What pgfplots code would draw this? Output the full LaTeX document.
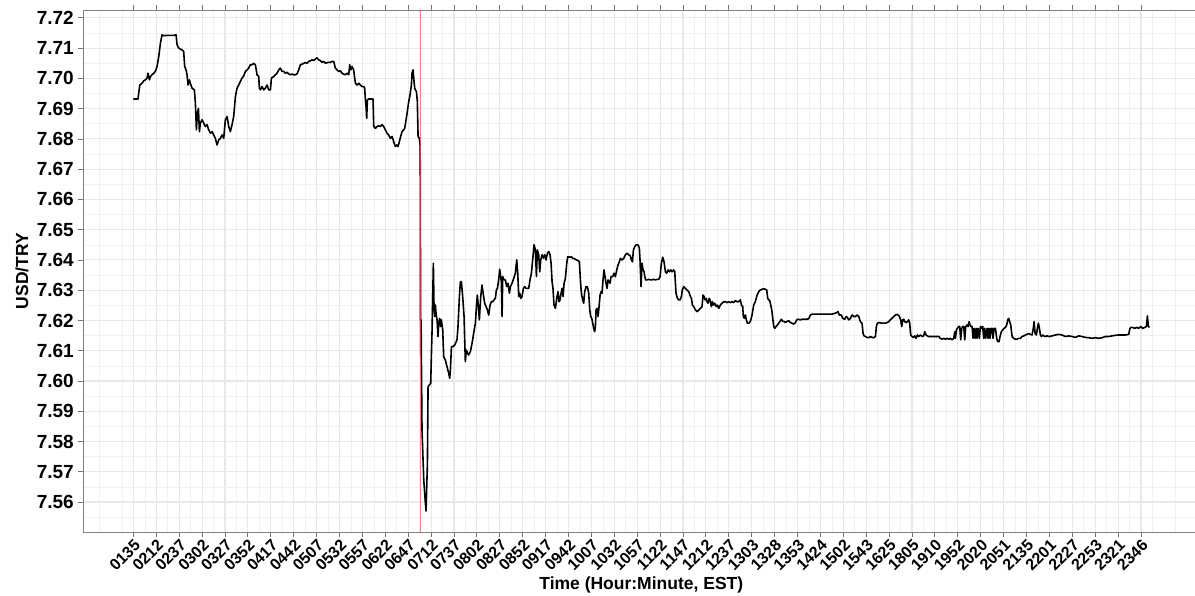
\documentclass[border=0pt]{standalone}
\usepackage{pgfplots}
\pgfplotsset{compat=1.18}
\usepackage{fontspec}
\setmainfont{Liberation Sans}
\begin{document}
\begin{tikzpicture}
\begin{axis}[
  at={(0,0)}, anchor=south west,
  scale only axis,
  width=1116.6pt, height=522pt,
  xmin=-55, xmax=1164,
  ymin=7.5501, ymax=7.7226,
  axis background/.style={fill=white},
  xtick={0,25,...,1100},
  xticklabels={0135,0212,0237,0302,0327,0352,0417,0442,0507,0532,0557,0622,0647,0712,0737,0802,0827,0852,0917,0942,1007,1032,1057,1122,1147,1212,1237,1303,1328,1353,1424,1502,1543,1625,1805,1910,1952,2020,2051,2135,2201,2227,2253,2321,2346},
  minor xtick={-37.5,-12.5,12.5,...,1162.5},
  ytick={7.56,7.57,7.58,7.59,7.60,7.61,7.62,7.63,7.64,7.65,7.66,7.67,7.68,7.69,7.70,7.71,7.72},
  yticklabels={7.56,7.57,7.58,7.59,7.60,7.61,7.62,7.63,7.64,7.65,7.66,7.67,7.68,7.69,7.70,7.71,7.72},
  minor ytick={7.555,7.565,7.575,7.585,7.595,7.605,7.615,7.625,7.635,7.645,7.655,7.665,7.675,7.685,7.695,7.705,7.715},
  grid=both,
  major grid style={line width=1.1pt, black!9},
  minor grid style={line width=0.55pt, black!6},
  minor tick length=0pt,
  tick align=outside,
  major tick length=5pt,
  tick style={black!55, line width=0.8pt},
  axis line style={black!50, line width=0.8pt},
  yticklabel style={font=\bfseries\fontsize{19}{20}\selectfont, black, anchor=east, inner sep=0pt, xshift=-4pt},
  xticklabel style={font=\bfseries\fontsize{16}{17}\selectfont, black, rotate=45, anchor=north east, inner sep=1pt},
  xlabel={Time (Hour:Minute, EST)},
  ylabel={USD/TRY},
  xlabel style={font=\bfseries\fontsize{17.5}{18}\selectfont, at={(axis description cs:0.5,0)}, anchor=center, yshift=-53pt},
  ylabel style={font=\bfseries\fontsize{17.5}{18}\selectfont, at={(axis description cs:0,0.5)}, anchor=center, yshift=61pt},
]
\addplot[black, line width=1.6pt, line join=round] table {
x y
0 7.6932
5 7.6932
7 7.6978
9.5 7.6984
11.3 7.6992
13.1 7.6995
14.9 7.7001
16.0 7.7017
17.5 7.6995
18.6 7.7006
20.4 7.7012
22.2 7.7017
24.0 7.7023
25.8 7.7039
27.7 7.7072
29.5 7.7116
31.3 7.7144
33.1 7.7141
36.8 7.7142
40.4 7.7142
44.0 7.7142
46.6 7.7144
47.7 7.7111
49.5 7.7100
53.1 7.7094
54.9 7.7089
56.0 7.7039
57.5 7.7028
58.6 7.7012
59.7 7.6978
61.1 7.6995
62.2 7.6984
64.0 7.6968
66.6 7.6962
67.7 7.6918
68.8 7.6830
69.9 7.6885
71.0 7.6901
72.1 7.6824
73.1 7.6852
75.0 7.6863
76.8 7.6852
78.6 7.6841
80.4 7.6847
82.2 7.6830
84.1 7.6819
85.9 7.6824
87.7 7.6813
89.5 7.6802
91.3 7.6780
93.2 7.6797
95.0 7.6802
96.8 7.6813
98.6 7.6802
100.4 7.6863
102.3 7.6874
104.1 7.6841
105.9 7.6824
107.7 7.6847
109.5 7.6874
111.4 7.6940
113.2 7.6968
115.0 7.6978
116.8 7.6990
118.6 7.7001
120.4 7.7008
122.3 7.7023
124.1 7.7028
125.9 7.7034
127.7 7.7045
129.5 7.7045
131.4 7.7050
133.2 7.7045
135.0 7.7012
136.8 7.7006
137.6 7.6968
138.6 7.6962
140.5 7.6973
142.3 7.6962
144.1 7.6968
145.9 7.6978
147.7 7.6962
149.6 7.6962
150.7 7.7001
153.2 7.7006
155.0 7.7012
156.8 7.7017
158.7 7.7028
160.5 7.7034
162.3 7.7023
164.1 7.7023
165.9 7.7017
167.8 7.7020
169.6 7.7015
171.4 7.7012
173.2 7.7014
175.0 7.7012
176.8 7.7012
178.7 7.7015
180.5 7.7028
182.3 7.7045
184.1 7.7047
185.9 7.7050
187.8 7.7052
189.6 7.7050
191.4 7.7056
193.2 7.7058
195.0 7.7061
196.9 7.7059
198.7 7.7064
200.5 7.7068
202.3 7.7061
204.1 7.7059
206.0 7.7053
207.8 7.7056
209.6 7.7050
211.4 7.7052
213.2 7.7053
215.1 7.7053
216.9 7.7056
218.7 7.7056
220.5 7.7034
222.3 7.7028
224.2 7.7023
226.0 7.7025
227.8 7.7017
229.6 7.7014
231.4 7.7012
233.3 7.7017
235.1 7.7012
236.2 7.7045
237.3 7.7028
238.7 7.7039
240.5 7.7028
241.6 7.7001
242.4 7.6984
244.2 7.6978
246.0 7.6984
247.8 7.6978
249.6 7.6973
251.5 7.6973
252.5 7.6968
253.3 7.6929
254.0 7.6907
254.7 7.6868
255.5 7.6929
256.9 7.6932
260.5 7.6932
261.6 7.6932
262.4 7.6841
264.2 7.6835
266.0 7.6841
267.8 7.6843
269.6 7.6841
271.5 7.6847
273.3 7.6841
275.1 7.6830
276.9 7.6819
278.7 7.6813
280.6 7.6802
282.4 7.6808
284.2 7.6791
286.0 7.6775
287.8 7.6780
288.9 7.6775
290.4 7.6791
291.8 7.6808
293.3 7.6824
295.1 7.6830
296.2 7.6835
297.7 7.6863
298.8 7.6885
300.6 7.6923
301.7 7.6940
302.8 7.6962
303.5 7.6978
304.2 7.7017
305.3 7.7028
306.4 7.6990
307.1 7.6968
307.8 7.6962
309.0 7.6957
310.0 7.6924
310.8 7.6808
312.2 7.6802
313.0 7.6780
313.3 7.6650
313.5 7.6200
313.8 7.6081
314.1 7.6202
314.4 7.6081
315.1 7.5838
317.0 7.5673
318.8 7.5596
319.5 7.5570
321.0 7.5728
321.7 7.5981
323.1 7.5987
324.6 7.5992
325.3 7.6080
326.1 7.6169
326.8 7.6279
327.5 7.6389
328.2 7.6246
329.0 7.6213
329.7 7.6251
330.4 7.6224
331.5 7.6202
332.6 7.6147
333.3 7.6191
334.4 7.6207
335.5 7.6180
336.2 7.6202
337.7 7.6169
338.8 7.6080
340.6 7.6069
342.4 7.6047
344.3 7.6025
345.3 7.6009
346.1 7.6036
347.2 7.6113
348.6 7.6113
350.8 7.6119
353.3 7.6136
354.4 7.6180
355.9 7.6279
357.0 7.6328
358.1 7.6328
359.5 7.6279
361.0 7.6213
361.7 7.6136
362.4 7.6064
363.5 7.6102
365.0 7.6091
366.1 7.6086
367.9 7.6097
369.7 7.6124
371.5 7.6158
373.4 7.6191
374.5 7.6246
375.5 7.6284
376.6 7.6246
377.7 7.6202
379.2 7.6279
380.6 7.6317
382.1 7.6284
383.5 7.6257
385.0 7.6246
386.5 7.6235
387.9 7.6218
389.4 7.6251
390.8 7.6262
392.3 7.6262
393.7 7.6268
395.2 7.6273
396.3 7.6301
397.4 7.6306
398.8 7.6334
399.9 7.6369
401.0 7.6345
401.7 7.6328
402.5 7.6213
403.2 7.6345
404.7 7.6334
406.1 7.6334
407.6 7.6312
409.0 7.6323
410.5 7.6290
411.6 7.6312
413.4 7.6323
415.2 7.6339
417.0 7.6356
418.5 7.6400
419.6 7.6356
420.7 7.6279
421.8 7.6290
422.8 7.6273
424.3 7.6279
425.8 7.6306
427.2 7.6312
428.7 7.6306
430.1 7.6306
431.6 7.6306
433.0 7.6334
434.5 7.6356
435.9 7.6400
437.4 7.6450
438.9 7.6433
440.0 7.6345
441.0 7.6433
442.5 7.6417
443.6 7.6361
444.7 7.6400
446.1 7.6417
447.6 7.6406
449.1 7.6417
450.5 7.6400
452.0 7.6422
453.4 7.6428
454.9 7.6417
456.0 7.6389
457.1 7.6328
458.1 7.6306
459.2 7.6251
460.7 7.6240
462.5 7.6279
463.6 7.6295
464.7 7.6262
465.8 7.6268
466.9 7.6290
468.0 7.6306
469.1 7.6279
470.2 7.6323
471.6 7.6339
473.1 7.6389
474.2 7.6411
476.0 7.6409
478.2 7.6411
479.6 7.6405
481.1 7.6405
482.5 7.6402
484.0 7.6400
485.4 7.6398
486.9 7.6394
488.0 7.6334
489.1 7.6290
490.5 7.6268
491.6 7.6257
492.7 7.6295
494.2 7.6312
495.6 7.6312
497.1 7.6290
498.2 7.6235
499.3 7.6213
500.4 7.6207
501.5 7.6191
502.5 7.6174
503.6 7.6163
504.4 7.6180
505.1 7.6235
506.2 7.6240
507.3 7.6213
508.4 7.6246
509.5 7.6284
510.6 7.6295
511.6 7.6290
512.7 7.6334
513.8 7.6367
514.9 7.6345
516.0 7.6323
517.1 7.6306
518.2 7.6334
519.3 7.6328
520.4 7.6323
521.5 7.6345
523.3 7.6345
524.7 7.6356
526.2 7.6345
527.7 7.6367
529.1 7.6383
530.6 7.6394
531.7 7.6405
533.5 7.6400
535.3 7.6405
537.1 7.6417
538.9 7.6422
540.8 7.6417
542.6 7.6413
543.7 7.6400
544.8 7.6394
545.9 7.6433
547.3 7.6444
548.8 7.6450
550.9 7.6450
552.4 7.6439
553.1 7.6400
554.2 7.6312
555.3 7.6389
556.4 7.6367
557.5 7.6361
559.0 7.6334
560.8 7.6334
562.6 7.6336
564.4 7.6334
566.2 7.6334
568.0 7.6336
569.9 7.6334
571.7 7.6336
573.5 7.6336
575.0 7.6345
576.4 7.6389
577.9 7.6409
579.3 7.6394
580.8 7.6361
582.2 7.6356
583.7 7.6367
585.2 7.6361
586.6 7.6367
588.1 7.6361
589.9 7.6367
591.0 7.6361
592.4 7.6290
593.9 7.6273
595.3 7.6268
596.8 7.6268
598.3 7.6279
599.3 7.6301
600.8 7.6312
602.6 7.6306
604.4 7.6301
606.3 7.6295
608.1 7.6279
609.2 7.6273
610.3 7.6251
611.7 7.6246
613.5 7.6235
615.4 7.6229
617.2 7.6235
619.0 7.6240
620.8 7.6246
621.9 7.6284
623.0 7.6279
624.1 7.6268
625.2 7.6273
626.3 7.6262
627.4 7.6257
628.5 7.6273
629.5 7.6268
631.0 7.6246
632.1 7.6262
633.2 7.6251
634.6 7.6257
636.1 7.6246
637.6 7.6251
639.0 7.6240
640.8 7.6251
642.7 7.6257
644.5 7.6262
646.3 7.6262
648.1 7.6259
649.9 7.6262
651.7 7.6259
653.6 7.6262
655.4 7.6259
657.2 7.6266
659.0 7.6262
660.8 7.6262
662.7 7.6268
663.8 7.6251
665.2 7.6246
665.9 7.6213
667.0 7.6207
668.1 7.6218
669.2 7.6202
670.3 7.6191
671.8 7.6191
673.6 7.6197
675.4 7.6218
677.2 7.6251
679.0 7.6262
680.9 7.6284
682.7 7.6295
684.5 7.6301
686.3 7.6303
688.1 7.6305
690.0 7.6303
691.4 7.6301
692.5 7.6273
693.6 7.6268
694.7 7.6266
695.8 7.6251
696.9 7.6235
698.0 7.6207
699.1 7.6180
700.2 7.6174
701.6 7.6180
703.1 7.6185
704.5 7.6191
706.0 7.6197
707.4 7.6204
708.9 7.6197
710.3 7.6197
711.8 7.6193
713.6 7.6197
715.4 7.6199
717.3 7.6193
719.1 7.6191
720.9 7.6188
722.7 7.6193
724.2 7.6202
725.6 7.6204
728.2 7.6202
730.0 7.6204
731.8 7.6204
733.6 7.6204
735.4 7.6204
737.3 7.6206
739.1 7.6218
740.9 7.6221
744.5 7.6221
748.2 7.6221
751.8 7.6221
755.5 7.6221
759.1 7.6221
762.7 7.6221
766.4 7.6224
769.3 7.6229
770.7 7.6218
772.9 7.6218
774.4 7.6207
776.6 7.6204
778.0 7.6213
779.5 7.6210
780.9 7.6202
782.8 7.6207
784.6 7.6218
786.4 7.6213
788.2 7.6213
790.0 7.6218
791.9 7.6213
793.7 7.6196
795.5 7.6191
796.6 7.6157
797.7 7.6149
799.1 7.6147
801.0 7.6144
802.8 7.6143
804.6 7.6147
806.4 7.6144
808.2 7.6143
810.1 7.6147
811.1 7.6180
812.2 7.6191
813.7 7.6193
817.3 7.6191
821.0 7.6191
822.8 7.6193
824.6 7.6196
826.4 7.6202
828.2 7.6207
830.1 7.6213
831.9 7.6218
833.7 7.6220
834.8 7.6218
836.3 7.6213
837.7 7.6202
838.8 7.6180
839.9 7.6202
841.0 7.6204
842.1 7.6196
843.5 7.6193
845.0 7.6196
846.4 7.6202
847.5 7.6191
848.6 7.6152
850.1 7.6147
851.9 7.6144
853.0 7.6149
854.4 7.6141
855.9 7.6152
857.4 7.6147
859.2 7.6152
861.0 7.6147
862.8 7.6149
863.9 7.6163
865.4 7.6152
866.8 7.6149
868.3 7.6147
871.9 7.6147
875.6 7.6147
879.2 7.6147
881.0 7.6141
882.8 7.6138
884.6 7.6141
886.5 7.6138
888.3 7.6141
890.1 7.6138
891.9 7.6141
893.7 7.6136
895.6 7.6141
896.7 7.6163
897.4 7.6141
898.5 7.6169
899.6 7.6174
901.0 7.6180
902.1 7.6180
903.2 7.6136
904.3 7.6174
905.4 7.6180
906.5 7.6180
907.6 7.6136
908.7 7.6180
910.1 7.6185
911.2 7.6180
912.3 7.6196
913.4 7.6185
914.5 7.6180
915.6 7.6180
916.7 7.6141
917.8 7.6174
918.9 7.6141
920.0 7.6174
921.0 7.6141
922.1 7.6174
923.6 7.6141
924.7 7.6180
925.8 7.6174
927.2 7.6180
928.3 7.6141
929.4 7.6174
930.5 7.6141
932.0 7.6174
933.1 7.6141
934.1 7.6174
935.2 7.6141
936.3 7.6174
937.4 7.6174
938.5 7.6141
939.6 7.6174
941.1 7.6174
942.5 7.6141
943.6 7.6130
945.1 7.6130
946.1 7.6147
947.6 7.6163
949.1 7.6169
950.5 7.6174
952.0 7.6177
953.4 7.6185
954.5 7.6202
955.6 7.6207
956.7 7.6196
957.8 7.6185
959.3 7.6147
961.1 7.6141
962.9 7.6138
964.7 7.6138
966.5 7.6141
968.3 7.6141
970.2 7.6147
972.0 7.6149
973.8 7.6152
975.6 7.6154
977.4 7.6157
979.3 7.6154
981.1 7.6152
982.2 7.6169
983.3 7.6196
984.4 7.6157
985.8 7.6152
986.9 7.6174
988.0 7.6191
989.1 7.6174
990.2 7.6152
991.3 7.6147
992.7 7.6152
994.9 7.6147
997.5 7.6149
1000.0 7.6147
1002.9 7.6149
1006.6 7.6152
1010.2 7.6154
1013.8 7.6152
1017.5 7.6147
1021.1 7.6149
1024.8 7.6147
1028.4 7.6144
1032.0 7.6149
1035.7 7.6147
1039.3 7.6144
1043.0 7.6143
1046.6 7.6141
1050.2 7.6143
1053.9 7.6141
1057.5 7.6143
1061.2 7.6147
1064.8 7.6147
1068.4 7.6149
1072.1 7.6151
1075.7 7.6152
1079.3 7.6152
1083.0 7.6152
1086.6 7.6154
1087.7 7.6171
1088.8 7.6177
1091.0 7.6177
1093.2 7.6174
1095.3 7.6177
1097.5 7.6174
1099.7 7.6180
1101.9 7.6174
1104.1 7.6177
1105.9 7.6180
1107.0 7.6215
1108.1 7.6180
1109.2 7.6177
};
\addplot[color={rgb,255:red,240;green,90;blue,90}, line width=0.8pt, opacity=0.75] coordinates {(313,7.5501) (313,7.7226)};
\end{axis}
\pgfresetboundingbox
\path[use as bounding box] (-83pt,-64pt) rectangle (1112pt,532pt);
\end{tikzpicture}
\end{document}
